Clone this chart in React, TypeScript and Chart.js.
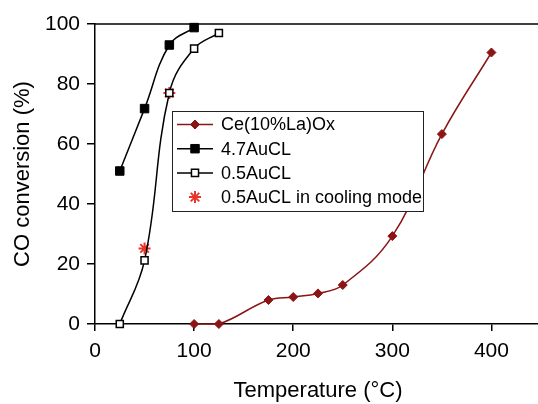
import React, { useEffect, useRef } from "react";
import { Chart, registerables } from "chart.js";

Chart.register(...registerables);

const ceTemps = [100, 125, 175, 200, 225, 250, 300, 350, 400];
const ceConv = [0, 0, 8, 9, 10.2, 13, 29.3, 63.3, 90.5];
const au47Temps = [25, 50, 75, 100];
const au47Conv = [51, 71.8, 93, 98.8];
const au05Temps = [25, 50, 75, 100, 125];
const au05Conv = [0, 21.2, 77, 91.8, 97];
const coolTemps = [50, 75];
const coolConv = [25.2, 77];
const xTicks = [0, 100, 200, 300, 400];
const yTicks = [0, 20, 40, 60, 80, 100];
const seriesLabels = ["Ce(10%La)Ox", "4.7AuCL", "0.5AuCL", "0.5AuCL in cooling mode"];

const FONT = "'Liberation Sans', Arial, Helvetica, sans-serif";
const CE_COLOR = "#8B1414";
const RED = "#E8352C";

function toXY(xs: number[], ys: number[]) {
  return xs.map((x, i) => ({ x, y: ys[i] }));
}

function drawMarker(ctx: CanvasRenderingContext2D, style: string, x: number, y: number, r: number, fill: string, stroke: string, bw: number) {
  ctx.save();
  ctx.lineWidth = bw;
  ctx.strokeStyle = stroke;
  ctx.fillStyle = fill;
  ctx.beginPath();
  if (style === "rectRot") {
    ctx.moveTo(x, y - r);
    ctx.lineTo(x + r, y);
    ctx.lineTo(x, y + r);
    ctx.lineTo(x - r, y);
    ctx.closePath();
    ctx.fill();
    ctx.stroke();
  } else if (style === "rect") {
    const s = r * Math.SQRT1_2;
    ctx.rect(x - s, y - s, 2 * s, 2 * s);
    ctx.fill();
    ctx.stroke();
  } else if (style === "star") {
    const d = r * Math.SQRT1_2;
    ctx.moveTo(x - r, y);
    ctx.lineTo(x + r, y);
    ctx.moveTo(x, y - r);
    ctx.lineTo(x, y + r);
    ctx.moveTo(x - d, y - d);
    ctx.lineTo(x + d, y + d);
    ctx.moveTo(x - d, y + d);
    ctx.lineTo(x + d, y - d);
    ctx.stroke();
  }
  ctx.restore();
}

const frameAndLegend = {
  id: "frameAndLegend",
  beforeDatasetsDraw(chart: any) {
    const { ctx, chartArea } = chart;
    ctx.save();
    ctx.strokeStyle = "#000";
    ctx.lineWidth = 1.5;
    ctx.beginPath();
    ctx.moveTo(chartArea.left, chartArea.top);
    ctx.lineTo(chartArea.right, chartArea.top);
    ctx.lineTo(chartArea.right, chartArea.bottom);
    ctx.stroke();
    ctx.restore();
  },
  afterDatasetsDraw(chart: any) {
    const { ctx, chartArea } = chart;
    const x0 = chartArea.left + 77;
    const y0 = chartArea.top + 87;
    const w = 251;
    const h = 100;
    ctx.save();
    ctx.fillStyle = "#fff";
    ctx.fillRect(x0, y0, w, h);
    ctx.strokeStyle = "#222";
    ctx.lineWidth = 1;
    ctx.strokeRect(x0 + 0.5, y0 + 0.5, w, h);
    chart.data.datasets.forEach((ds: any, i: number) => {
      const cy = y0 + 13.5 + i * 24.2;
      if (ds.showLine !== false) {
        ctx.strokeStyle = ds.borderColor;
        ctx.lineWidth = 1.5;
        ctx.beginPath();
        ctx.moveTo(x0 + 5, cy);
        ctx.lineTo(x0 + 41, cy);
        ctx.stroke();
      }
      drawMarker(ctx, ds.pointStyle, x0 + 23, cy, ds.pointRadius, ds.pointBackgroundColor, ds.pointBorderColor, ds.pointBorderWidth);
      ctx.fillStyle = "#000";
      ctx.font = `18px ${FONT}`;
      ctx.textBaseline = "middle";
      ctx.textAlign = "left";
      ctx.fillText(ds.label, x0 + 49, cy + 1);
    });
    ctx.restore();
  },
};

export default function App() {
  const ref = useRef<HTMLCanvasElement | null>(null);

  useEffect(() => {
    if (!ref.current) return;
    const chart = new Chart(ref.current, {
      type: "scatter",
      data: {
        datasets: [
          {
            label: seriesLabels[0],
            data: toXY(ceTemps, ceConv),
            showLine: true,
            borderColor: CE_COLOR,
            borderWidth: 1.5,
            tension: 0.4,
            pointStyle: "rectRot",
            pointRadius: 4.5,
            pointBackgroundColor: CE_COLOR,
            pointBorderColor: CE_COLOR,
            pointBorderWidth: 1,
            clip: false,
          } as any,
          {
            label: seriesLabels[1],
            data: toXY(au47Temps, au47Conv),
            showLine: true,
            borderColor: "#000",
            borderWidth: 1.5,
            tension: 0.4,
            pointStyle: "rect",
            pointRadius: 6,
            pointBackgroundColor: "#000",
            pointBorderColor: "#000",
            pointBorderWidth: 1,
            clip: false,
          },
          {
            label: seriesLabels[2],
            data: toXY(au05Temps, au05Conv),
            showLine: true,
            borderColor: "#000",
            borderWidth: 1.5,
            tension: 0.4,
            pointStyle: "rect",
            pointRadius: 5,
            pointBackgroundColor: "#fff",
            pointBorderColor: "#000",
            pointBorderWidth: 1.5,
            clip: false,
          },
          {
            label: seriesLabels[3],
            data: toXY(coolTemps, coolConv),
            showLine: false,
            borderColor: RED,
            pointStyle: "star",
            pointRadius: 6,
            pointBackgroundColor: RED,
            pointBorderColor: RED,
            pointBorderWidth: 2,
            clip: false,
          },
        ],
      },
      options: {
        animation: false,
        responsive: false,
        devicePixelRatio: 1,
        layout: { padding: { top: 24, left: 0, right: 0, bottom: 0 } },
        plugins: { legend: { display: false }, tooltip: { enabled: false } },
        scales: {
          x: {
            type: "linear",
            min: 0,
            max: 450,
            afterBuildTicks: (s: any) => {
              s.ticks = xTicks.map((v) => ({ value: v }));
            },
            afterFit: (s: any) => {
              s.height = 80;
              s.paddingRight = 0;
              s.paddingLeft = 0;
            },
            grid: { drawOnChartArea: false, drawTicks: true, tickLength: 7, color: "#000", lineWidth: 1.5 },
            border: { color: "#000", width: 1.5 },
            ticks: { font: { size: 21, family: FONT }, color: "#000", padding: 8, maxRotation: 0 },
            title: {
              display: true,
              text: "Temperature (°C)",
              font: { size: 22, family: FONT },
              color: "#000",
              padding: { top: 0, bottom: 0 },
            },
          },
          y: {
            type: "linear",
            min: 0,
            max: 100,
            afterBuildTicks: (s: any) => {
              s.ticks = yTicks.map((v) => ({ value: v }));
            },
            afterFit: (s: any) => {
              s.width = 95;
            },
            grid: { drawOnChartArea: false, drawTicks: true, tickLength: 8, color: "#000", lineWidth: 1.5 },
            border: { color: "#000", width: 1.5 },
            ticks: { font: { size: 21, family: FONT }, color: "#000", padding: 7 },
            title: {
              display: true,
              text: "CO conversion (%)",
              font: { size: 22, family: FONT },
              color: "#000",
              padding: { top: 10, bottom: 0 },
            },
          },
        },
      },
      plugins: [frameAndLegend],
    });
    return () => chart.destroy();
  }, []);

  return (
    <div style={{ position: "fixed", left: 0, top: 0, width: 538, height: 404, overflow: "hidden", background: "#fff" }}>
      <canvas ref={ref} width={549} height={404} style={{ display: "block", width: 549, height: 404 }} />
    </div>
  );
}
